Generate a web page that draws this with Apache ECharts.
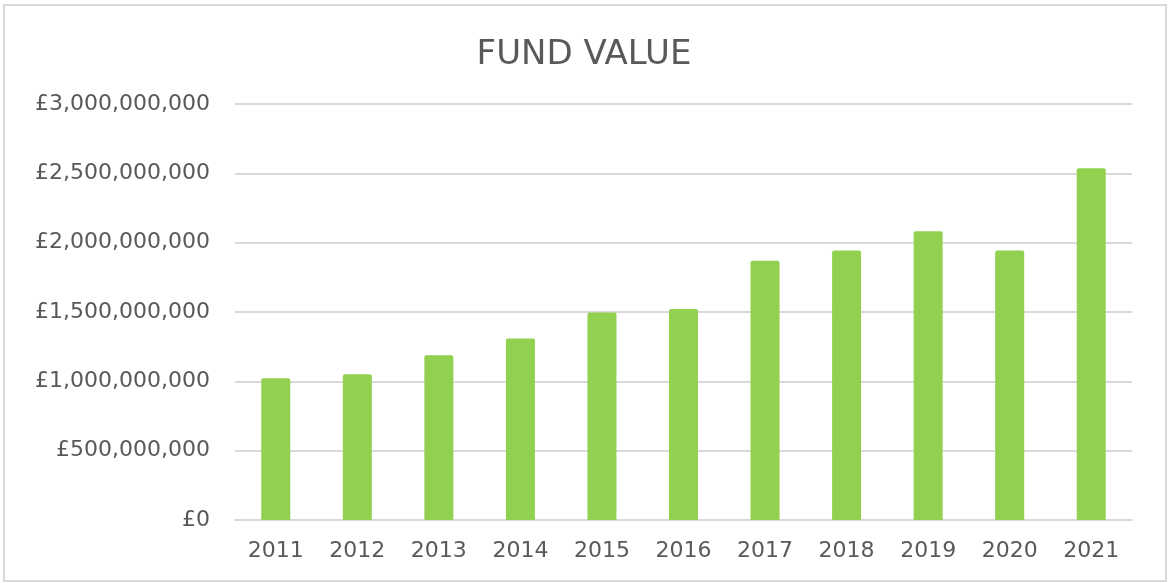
<!DOCTYPE html>
<html>
<head>
<meta charset="utf-8">
<script src="https://cdn.jsdelivr.net/npm/echarts@6/dist/echarts.min.js"></script>
<style>
html,body{margin:0;padding:0;background:#fff;}
#chart{width:1168px;height:583px;}
</style>
</head>
<body>
<div id="chart"></div>
<script>
const titleText = 'FUND VALUE';
const years = ['2011','2012','2013','2014','2015','2016','2017','2018','2019','2020','2021'];
const fundValues = [1022000000, 1051000000, 1188000000, 1308000000, 1496000000, 1522000000, 1869000000, 1943000000, 2083000000, 1943000000, 2537000000];
const yTicks = { min: 0, max: 3000000000, interval: 500000000 };

function fmtGBP(v) {
  return '£' + Math.round(v).toString().replace(/\B(?=(\d{3})+(?!\d))/g, ',');
}

const chart = echarts.init(document.getElementById('chart'), null, {renderer: 'canvas'});
chart.setOption({
  backgroundColor: '#ffffff',
  animation: false,
  textStyle: { fontFamily: 'DejaVu Sans' },
  title: {
    text: titleText,
    left: 'center',
    top: 33,
    textStyle: { fontFamily: 'DejaVu Sans', fontSize: 34, fontWeight: 'normal', color: '#595959' }
  },
  graphic: [{
    type: 'rect',
    shape: { x: 4, y: 5, width: 1162, height: 576 },
    style: { fill: 'none', stroke: '#d9d9d9', lineWidth: 2 },
    silent: true
  }],
  grid: { left: 235, right: 36, top: 104, bottom: 63 },
  xAxis: {
    type: 'category',
    data: years,
    axisLine: { show: true, lineStyle: { color: '#d9d9d9', width: 2 } },
    axisTick: { show: false },
    axisLabel: { color: '#595959', fontSize: 22, fontFamily: 'DejaVu Sans', margin: 20 }
  },
  yAxis: {
    type: 'value',
    min: yTicks.min,
    max: yTicks.max,
    interval: yTicks.interval,
    axisLine: { show: false },
    axisTick: { show: false },
    splitLine: { lineStyle: { color: '#d9d9d9', width: 2 } },
    axisLabel: { color: '#595959', fontSize: 22, fontFamily: 'DejaVu Sans', margin: 25, formatter: fmtGBP }
  },
  series: [{
    type: 'bar',
    data: fundValues,
    barWidth: 29,
    itemStyle: { color: '#92d050', borderRadius: [2,2,0,0] }
  }]
});
</script>
</body>
</html>
